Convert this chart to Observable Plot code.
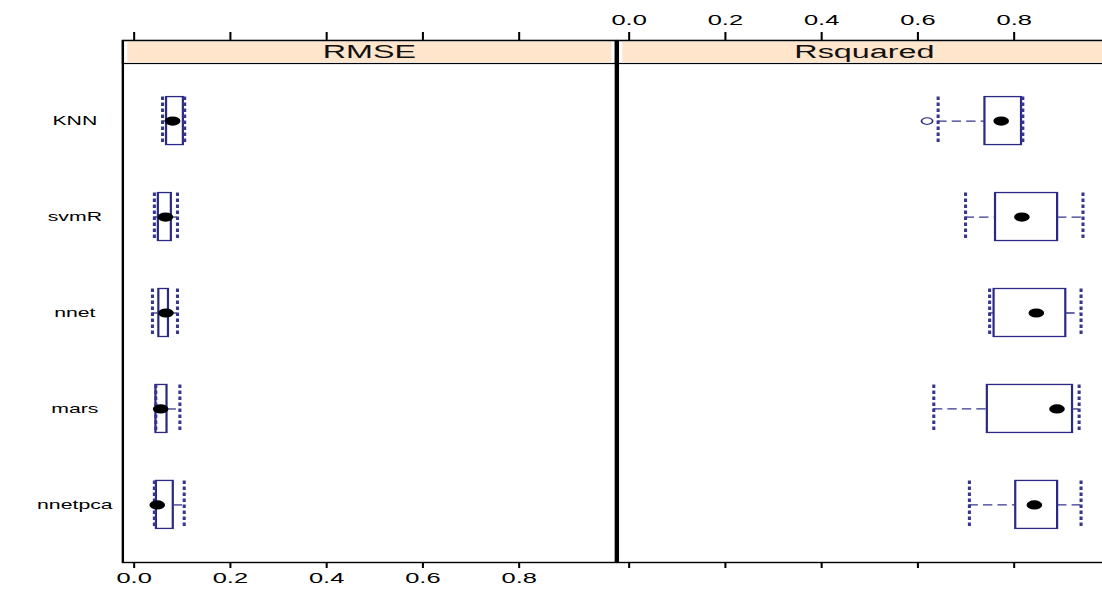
<!DOCTYPE html>
<html><head><meta charset="utf-8">
<script src="https://cdn.jsdelivr.net/npm/d3@7"></script>
<script src="https://cdn.jsdelivr.net/npm/@observablehq/plot@0.6"></script>
<style>html,body{margin:0;padding:0;background:#fff;overflow:hidden}</style>
</head><body><div id="chart"></div>
<script>
// ---- data ----
const models = ["KNN", "svmR", "nnet", "mars", "nnetpca"];
const metrics = ["RMSE", "Rsquared"];
const rmseLow  = [0.059, 0.042, 0.038, 0.045, 0.042];
const rmseQ1   = [0.068, 0.051, 0.052, 0.046, 0.047];
const rmseMed  = [0.080, 0.065, 0.066, 0.055, 0.048];
const rmseQ3   = [0.103, 0.078, 0.072, 0.069, 0.082];
const rmseHigh = [0.105, 0.090, 0.090, 0.095, 0.104];
const r2Low  = [0.642, 0.699, 0.749, 0.633, 0.707];
const r2Q1   = [0.740, 0.762, 0.759, 0.745, 0.804];
const r2Med  = [0.773, 0.816, 0.846, 0.889, 0.842];
const r2Q3   = [0.816, 0.891, 0.908, 0.922, 0.891];
const r2High = [0.818, 0.943, 0.939, 0.935, 0.939];
const outlierMetric = ["Rsquared"];
const outlierModel = ["KNN"];
const outlierValue = [0.619];
const tickValues = [0, 0.2, 0.4, 0.6, 0.8];
const tickLabels = ["0.0", "0.2", "0.4", "0.6", "0.8"];

// ---- tables ----
const rows = [
  ...models.map((m, i) => ({metric: "RMSE", model: m, low: rmseLow[i], q1: rmseQ1[i], med: rmseMed[i], q3: rmseQ3[i], high: rmseHigh[i]})),
  ...models.map((m, i) => ({metric: "Rsquared", model: m, low: r2Low[i], q1: r2Q1[i], med: r2Med[i], q3: r2Q3[i], high: r2High[i]}))
];
const outliers = outlierValue.map((v, i) => ({metric: outlierMetric[i], model: outlierModel[i], value: v}));
const tickRows = metrics.flatMap(m => tickValues.map((v, i) => ({metric: m, v, label: tickLabels[i]})));

// ---- layout (internal coords; the picture is stretched horizontally) ----
const S = 1.7;
const H = 597;
const mTop = 63, mBottom = 35;
const innerH = H - mTop - mBottom;
const mLeft = 122 / S;
const bw = 493 / S;
const gap = 2 / S;
const W = mLeft + 2 * bw + gap;
const navy = "#2a2a86";
const navy2 = "#36368e";
const font = "Liberation Sans, Arial, Helvetica, sans-serif";

const plot = Plot.plot({
  width: W, height: H,
  marginLeft: mLeft, marginRight: 0, marginTop: mTop, marginBottom: mBottom,
  style: {fontFamily: font, background: "white", color: "black"},
  fx: {domain: metrics, axis: null, paddingInner: gap / (bw + gap), paddingOuter: 0, round: false},
  x: {domain: [-0.0235, 1.0009], axis: null},
  y: {domain: models, axis: null, paddingInner: 0.5, paddingOuter: 0.35, round: false},
  marks: [
    // strip background
    Plot.frame({fill: "#ffe5cc", stroke: "none", insetTop: -21.5, insetBottom: innerH + 1.5, insetLeft: 2.6, insetRight: 2.6}),
    // strip outline
    Plot.frame({stroke: "#000", strokeWidth: 1.2, insetTop: -23, insetBottom: innerH}),
    // panel outline
    Plot.frame({stroke: "#000", strokeWidth: 1.4, insetTop: -23}),
    Plot.text(metrics, {fx: d => d, text: d => d, frameAnchor: "top", lineAnchor: "middle", dy: -11.5, fontSize: 19, fill: "#111"}),
    // ticks
    Plot.ruleX(tickRows, {fx: "metric", x: "v", insetTop: innerH, insetBottom: -6, stroke: "#000", strokeWidth: 1.2}),
    Plot.ruleX(tickRows, {fx: "metric", x: "v", insetTop: -31, insetBottom: innerH + 22, stroke: "#000", strokeWidth: 1.2}),
    Plot.text(tickRows.filter(d => d.metric === "RMSE"), {fx: "metric", x: "v", text: "label", frameAnchor: "bottom", lineAnchor: "middle", dy: 16, fontSize: 15}),
    Plot.text(tickRows.filter(d => d.metric === "Rsquared"), {fx: "metric", x: "v", text: "label", frameAnchor: "top", lineAnchor: "middle", dy: -43, fontSize: 15}),
    // y labels
    Plot.text(models, {fx: () => "RMSE", y: d => d, text: d => d, frameAnchor: "left", dx: -(122 - 74) / S, textAnchor: "middle", fontSize: 12.5}),
    // boxes
    Plot.barX(rows, {fx: "metric", y: "model", x1: "q1", x2: "q3", fill: "none", stroke: navy, strokeWidth: 1.3}),
    Plot.ruleY(rows, {fx: "metric", y: "model", x1: "low", x2: "q1", stroke: navy2, strokeWidth: 1.3, strokeDasharray: "5.5,3"}),
    Plot.ruleY(rows, {fx: "metric", y: "model", x1: "q3", x2: "high", stroke: navy2, strokeWidth: 1.3, strokeDasharray: "5.5,3"}),
    Plot.tickX(rows, {fx: "metric", y: "model", x: "low", stroke: navy2, strokeWidth: 1.8, strokeDasharray: "3.5,2.5"}),
    Plot.tickX(rows, {fx: "metric", y: "model", x: "high", stroke: navy2, strokeWidth: 1.8, strokeDasharray: "3.5,2.5"}),
    Plot.dot(rows, {fx: "metric", y: "model", x: "med", fill: "black", stroke: "none", r: 4.6}),
    Plot.dot(outliers, {fx: "metric", y: "model", x: "value", fill: "none", stroke: navy, strokeWidth: 1, r: 3.3})
  ]
});

plot.setAttribute("viewBox", `0 0 ${W} ${H}`);
plot.setAttribute("preserveAspectRatio", "none");
plot.setAttribute("width", Math.round(W * S));
plot.setAttribute("height", H);
plot.style.width = Math.round(W * S) + "px";
plot.style.height = H + "px";
plot.style.maxWidth = "none";
document.getElementById("chart").appendChild(plot);
</script>
</body></html>
